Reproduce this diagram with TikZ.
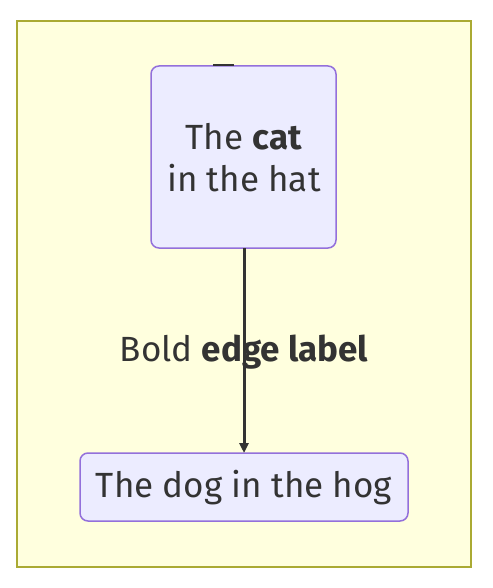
\documentclass[tikz,border=0pt]{standalone}
\usepackage{fontspec}
\setmainfont{Fira Sans}
\usetikzlibrary{arrows.meta}
\definecolor{nodefill}{HTML}{ECECFF}
\definecolor{nodeline}{HTML}{9370DB}
\definecolor{txt}{HTML}{333333}
\definecolor{clfill}{HTML}{FFFFDE}
\definecolor{clline}{HTML}{AAAA33}
\begin{document}
\begin{tikzpicture}[x=1pt,y=-1pt,
  box/.style={draw=nodeline,fill=nodefill,line width=1.5pt,rounded corners=8pt},
  lbl/.style={text=txt,font=\fontsize{35}{42}\selectfont,align=center},
  conn/.style={draw=txt,line width=3pt,-{Triangle[length=10pt,width=9pt]}}]
\useasboundingbox (0,0) rectangle (492,588);
\draw[draw=clline,fill=clfill,line width=1.5pt] (17,21) rectangle (471,567);
\draw[box] (151,66) rectangle (336,248);
\draw[box] (80,453) rectangle (408,521);
\draw[draw=txt,line width=2pt] (213,65) -- (234,65);
\coordinate (a1) at (244,248);
\node[lbl] (cat) at (244,158) {The \textbf{cat}\\in the hat};
\node[lbl] (dog) at (244,488) {The dog in the hog};
\coordinate (d1) at (244,453);
\draw[conn] (a1) -- (d1);
\node[lbl] (el) at (244,352) {Bold \textbf{edge label}};
\end{tikzpicture}
\end{document}
